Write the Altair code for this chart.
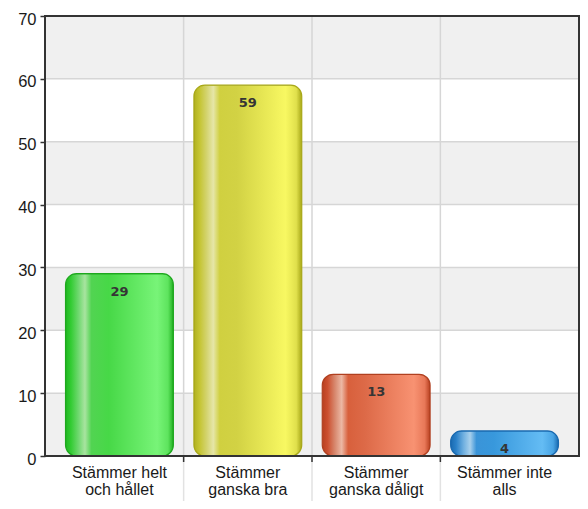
import altair as alt
import pandas as pd

# ---- data ----
categories = ["Stämmer helt och hållet", "Stämmer ganska bra",
              "Stämmer ganska dåligt", "Stämmer inte alls"]
label_lines = [["Stämmer helt", "och hållet"], ["Stämmer", "ganska bra"],
               ["Stämmer", "ganska dåligt"], ["Stämmer inte", "alls"]]
values = [29, 59, 13, 4]
y_ticks = [0, 10, 20, 30, 40, 50, 60, 70]
band_lo = [0, 20, 40, 60]
band_hi = [10, 30, 50, 70]
grid_vals = [10, 20, 30, 40, 50, 60]

# ---- styles ----
W, H = 534, 440
PI, PO = 0.16, 0.16
STEP = W / (len(categories) - PI + 2 * PO)
SEP_OFF = -PI * STEP / 2

palette = {
    categories[0]: (["#1fb81f", "#33cc33", "#6fd86f", "#a8e4a0", "#52d452", "#47d847", "#78f478", "#5ee45e", "#22b022"], "#1ea81e"),
    categories[1]: (["#b0b020", "#c4c430", "#d4d470", "#e6e6a8", "#d0d040", "#d2d244", "#f8f862", "#e0e04c", "#a8a818"], "#a8a818"),
    categories[2]: (["#b84020", "#cc5030", "#d88a70", "#ecb8a4", "#d8603c", "#dd6a48", "#f89272", "#e87858", "#b84020"], "#b04020"),
    categories[3]: (["#1a6ab0", "#2a80c8", "#70b0e0", "#a8d0ec", "#3a94d8", "#3898dc", "#64bcf4", "#48a4e4", "#1a6ab0"], "#1a6ab0"),
}
offsets = [0.0, 0.05, 0.12, 0.18, 0.24, 0.40, 0.85, 0.95, 1.0]

df = pd.DataFrame({"cat": categories, "y": values})
bands = pd.DataFrame({"y": band_lo, "y2": band_hi})
grid = pd.DataFrame({"y": grid_vals})
seps = pd.DataFrame({"cat": categories[1:]})
one = pd.DataFrame({"k": [0]})

yscale = alt.Scale(domain=[0, 70], nice=False, zero=True)
xscale = alt.Scale(domain=categories, paddingInner=PI, paddingOuter=PO)

label_expr = ""
for c, lines in zip(categories, label_lines):
    label_expr += f"datum.label == '{c}' ? ['{lines[0]}', '{lines[1]}'] : "
label_expr += "datum.label"

YAX = alt.Axis(values=y_ticks, title=None, grid=False, domain=False,
               tickSize=5, tickColor="#333", tickWidth=1.5,
               labelFont="Liberation Sans", labelFontSize=16.5,
               labelColor="#1a1a1a", labelPadding=4, labelOffset=3)
XAX = alt.Axis(title=None, labelAngle=0, ticks=False, domain=False, grid=False,
               labelExpr=label_expr, labelFont="Liberation Sans",
               labelFontSize=16, labelLineHeight=17, labelColor="#1a1a1a",
               labelPadding=8)

band_layer = alt.Chart(bands).mark_rect(color="#f0f0f0").encode(
    y=alt.Y("y:Q", scale=yscale, axis=YAX),
    y2="y2:Q",
    x=alt.value(0), x2=alt.value(W),
)

hgrid = alt.Chart(grid).mark_rule(color="#d6d6d6", strokeWidth=1.5).encode(
    y=alt.Y("y:Q", scale=yscale, axis=YAX),
    x=alt.value(0), x2=alt.value(W),
)

vgrid = alt.Chart(seps).mark_rule(color="#d6d6d6", strokeWidth=1.5, xOffset=SEP_OFF).encode(
    x=alt.X("cat:N", bandPosition=0, scale=xscale, axis=XAX),
    y=alt.value(0), y2=alt.value(H),
)
vgrid_below = alt.Chart(seps).mark_rule(color="#e2e2e2", strokeWidth=1.5, xOffset=SEP_OFF).encode(
    x=alt.X("cat:N", bandPosition=0, scale=xscale, axis=XAX),
    y=alt.value(H), y2=alt.value(H + 50),
)
xticks = alt.Chart(seps).mark_rule(color="#333", strokeWidth=1.5, xOffset=SEP_OFF).encode(
    x=alt.X("cat:N", bandPosition=0, scale=xscale, axis=XAX),
    y=alt.value(H), y2=alt.value(H + 6),
)

bar_layers = []
for c in categories:
    cols, stroke = palette[c]
    grad = alt.LinearGradient(
        gradient="linear", x1=0, x2=1, y1=0, y2=0,
        stops=[alt.GradientStop(offset=o, color=col) for o, col in zip(offsets, cols)],
    )
    bar_layers.append(
        alt.Chart(df).transform_filter(alt.datum.cat == c)
        .mark_bar(cornerRadius=11, color=grad, stroke=stroke, strokeWidth=1.2)
        .encode(x=alt.X("cat:N", scale=xscale, axis=XAX),
                y=alt.Y("y:Q", scale=yscale, axis=YAX))
    )

text = alt.Chart(df).mark_text(font="DejaVu Sans", fontWeight="bold", fontSize=13,
                               color="#353535", baseline="alphabetic", dy=22).encode(
    x=alt.X("cat:N", scale=xscale, axis=XAX),
    y=alt.Y("y:Q", scale=yscale, axis=YAX),
    text="y:Q",
)

border = alt.Chart(one).mark_rect(filled=False, stroke="#333", strokeWidth=2).encode(
    x=alt.value(0), x2=alt.value(W), y=alt.value(0), y2=alt.value(H),
)

chart = alt.layer(band_layer, hgrid, vgrid, vgrid_below, xticks, *bar_layers, text, border).properties(
    width=W, height=H,
    padding={"left": 37, "top": 8, "right": 1, "bottom": 45},
    autosize=alt.AutoSizeParams(type="none"),
    background="white",
).configure_view(stroke=None)

chart.save("out.html", embed_options={"renderer": "svg", "actions": False})
